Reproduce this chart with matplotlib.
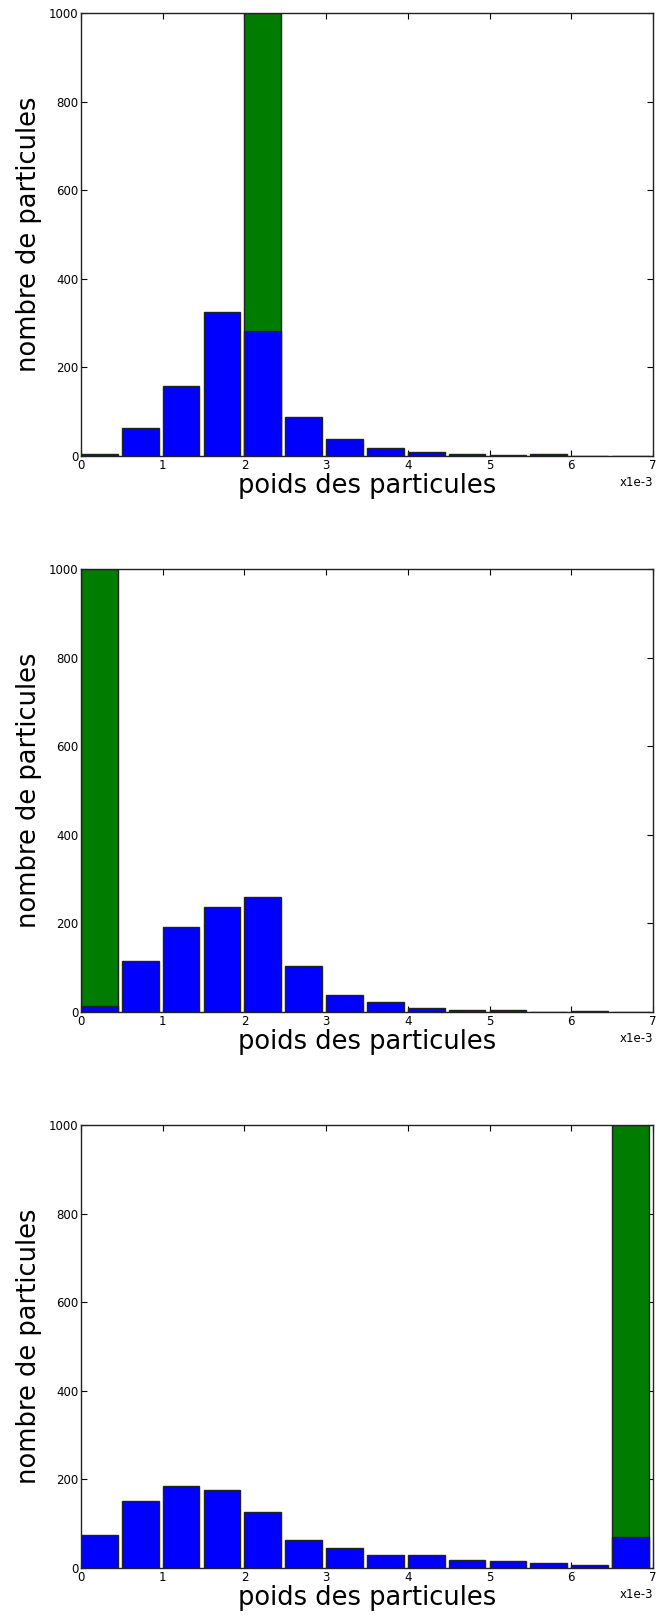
import matplotlib
matplotlib.use("Agg")
import matplotlib.pyplot as plt
import numpy as np

bin_starts = [0.0, 0.5, 1.0, 1.5, 2.0, 2.5, 3.0, 3.5, 4.0, 4.5, 5.0, 5.5, 6.0, 6.5]

counts_1 = [5, 64, 158, 326, 281, 88, 38, 18, 10, 5, 3, 4, 1, 1]
counts_2 = [14, 115, 192, 238, 260, 103, 38, 23, 10, 4, 4, 1, 3, 1]
counts_3 = [75, 151, 185, 176, 126, 63, 45, 29, 30, 19, 16, 11, 7, 70]

highlight_1 = 2.0
highlight_2 = 0.0
highlight_3 = 6.5
highlight_height = 1000

xticks = [0, 1, 2, 3, 4, 5, 6, 7]
yticks = [0, 200, 400, 600, 800, 1000]

panels = [(counts_1, highlight_1), (counts_2, highlight_2), (counts_3, highlight_3)]

fig = plt.figure(figsize=(6.59, 16.18), dpi=100)
left, width, height = 0.1229, 0.868, 0.2738
bottoms = [0.7182, 0.3745, 0.0309]

bar_w = 0.45
for (counts, hl), b in zip(panels, bottoms):
    ax = fig.add_axes([left, b, width, height])
    ax.bar([hl], [highlight_height], width=bar_w, align='edge', color='#007c00',
           edgecolor='#222222', linewidth=1.0, zorder=2)
    ax.bar(bin_starts, counts, width=bar_w, align='edge', color='#0000ff',
           edgecolor='#222222', linewidth=1.0, zorder=3)
    ax.set_xlim(0, 7)
    ax.set_ylim(0, 1000)
    ax.set_xticks(xticks)
    ax.set_yticks(yticks)
    ax.tick_params(direction='in', top=True, right=True, length=4, width=0.8,
                   labelsize=8.5, pad=2)
    for s in ax.spines.values():
        s.set_color('#222222')
        s.set_linewidth(1.0)
    ax.set_xlabel('poids des particules', fontsize=18.5, labelpad=1)
    ax.set_ylabel('nombre de particules', fontsize=18.5, labelpad=5)
    ax.text(1.0, -0.045, 'x1e-3', transform=ax.transAxes, ha='right', va='top',
            fontsize=8.5)

fig.savefig('out.png', dpi=100)
